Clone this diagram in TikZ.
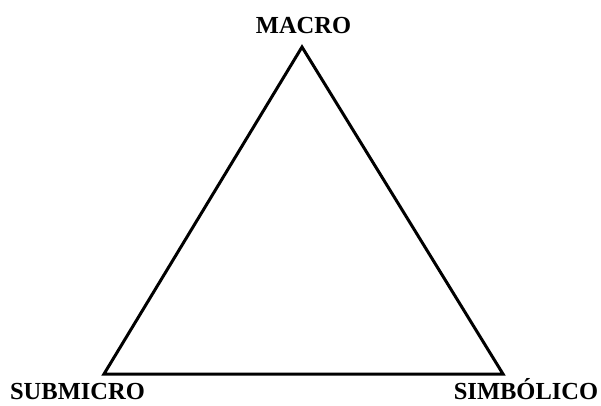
\documentclass[tikz,border=0pt]{standalone}
\usepackage{fontspec}
\setmainfont{Liberation Serif}
\usetikzlibrary{positioning}
\tikzset{every node/.style={font=\bfseries\fontsize{24.5}{26}\selectfont}}

\begin{document}
\begin{tikzpicture}[x=1pt, y=1pt, edgeline/.style={line width=3pt, line join=miter}, vlabel/.style={anchor=base, inner sep=0pt}]
        \useasboundingbox (0,0) rectangle (601,405);
        \coordinate (top) at (302,358);
        \coordinate (left) at (104,31);
        \coordinate (right) at (503,31);
        \draw[edgeline] (top) -- (right) -- (left) -- cycle;
        \node[vlabel] (macro) at (303.5,371) {MACRO};
        \node[vlabel] (submicro) at (77.5,5.6) {SUBMICRO};
        \node[vlabel] (simbolico) at (526,5.6) {SIMBÓLICO};
      \end{tikzpicture}
\end{document}
